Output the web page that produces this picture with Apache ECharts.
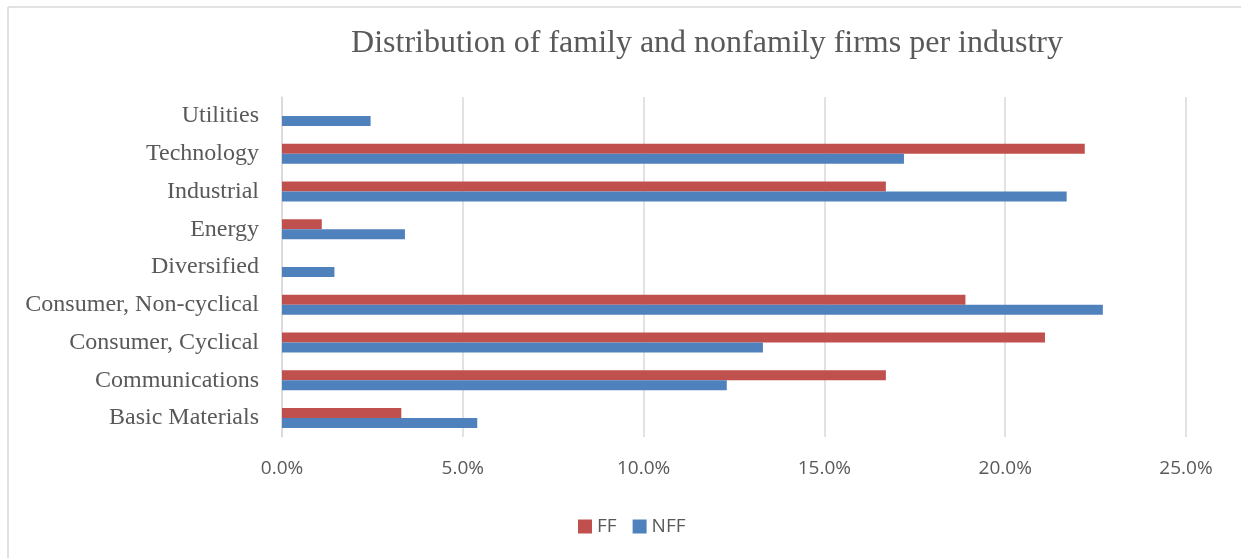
<!DOCTYPE html>
<html>
<head>
<meta charset="utf-8">
<script src="https://cdn.jsdelivr.net/npm/echarts@6/dist/echarts.min.js"></script>
<style>
  html, body { margin: 0; padding: 0; background: #fff; }
  #chart { width: 1241px; height: 558px; }
</style>
</head>
<body>
<div id="chart"></div>
<script>
// 行业分类（自下而上）
const industries = ['Basic Materials', 'Communications', 'Consumer, Cyclical', 'Consumer, Non-cyclical',
  'Diversified', 'Energy', 'Industrial', 'Technology', 'Utilities'];

// 家族企业 / 非家族企业占比 (%)
const ffValues = [3.3, 16.7, 21.1, 18.9, 0, 1.1, 16.7, 22.2, 0];
const nffValues = [5.4, 12.3, 13.3, 22.7, 1.45, 3.4, 21.7, 17.2, 2.45];

const seriesNames = ['FF', 'NFF'];
const axisMax = 25;
const axisStep = 5;

const chart = echarts.init(document.getElementById('chart'));

const option = {
  animation: false,
  backgroundColor: '#fff',
  title: {
    text: 'Distribution of family and nonfamily firms per industry',
    left: 702,
    top: 23,
    textAlign: 'center',
    textStyle: {
      fontFamily: 'Liberation Serif',
      fontSize: 32,
      fontWeight: 'normal',
      color: '#595959'
    }
  },
  graphic: [
    { type: 'line', shape: { x1: 8, y1: 7, x2: 1241, y2: 7 }, style: { stroke: '#d9d9d9', lineWidth: 1.5 } },
    { type: 'line', shape: { x1: 8, y1: 7, x2: 8, y2: 558 }, style: { stroke: '#d9d9d9', lineWidth: 1.5 } }
  ],
  legend: {
    data: seriesNames,
    left: 573,
    top: 512,
    itemWidth: 14,
    itemHeight: 14,
    itemGap: 16,
    icon: 'rect',
    textStyle: { fontFamily: 'Open Sans', fontSize: 19, color: '#595959' }
  },
  grid: {
    left: 282,
    right: 55,
    top: 97,
    bottom: 121
  },
  xAxis: {
    type: 'value',
    min: 0,
    max: axisMax,
    interval: axisStep,
    axisLine: { show: false },
    axisTick: { show: false },
    splitLine: { lineStyle: { color: '#d9d9d9', width: 1.5 } },
    axisLabel: {
      margin: 22,
      fontFamily: 'Open Sans',
      fontSize: 19,
      color: '#595959',
      formatter: v => v.toFixed(1) + '%'
    }
  },
  yAxis: {
    type: 'category',
    data: industries,
    axisLine: { lineStyle: { color: '#d9d9d9', width: 1.5 } },
    axisTick: { show: false },
    axisLabel: {
      margin: 23,
      fontFamily: 'Liberation Serif',
      fontSize: 24,
      color: '#595959'
    }
  },
  series: [
    {
      name: 'FF',
      type: 'bar',
      data: ffValues,
      barWidth: 10,
      barGap: '0%',
      itemStyle: { color: '#c0504d' }
    },
    {
      name: 'NFF',
      type: 'bar',
      data: nffValues,
      barWidth: 10,
      barGap: '0%',
      itemStyle: { color: '#4f81bd' }
    }
  ]
};

chart.setOption(option);
</script>
</body>
</html>
